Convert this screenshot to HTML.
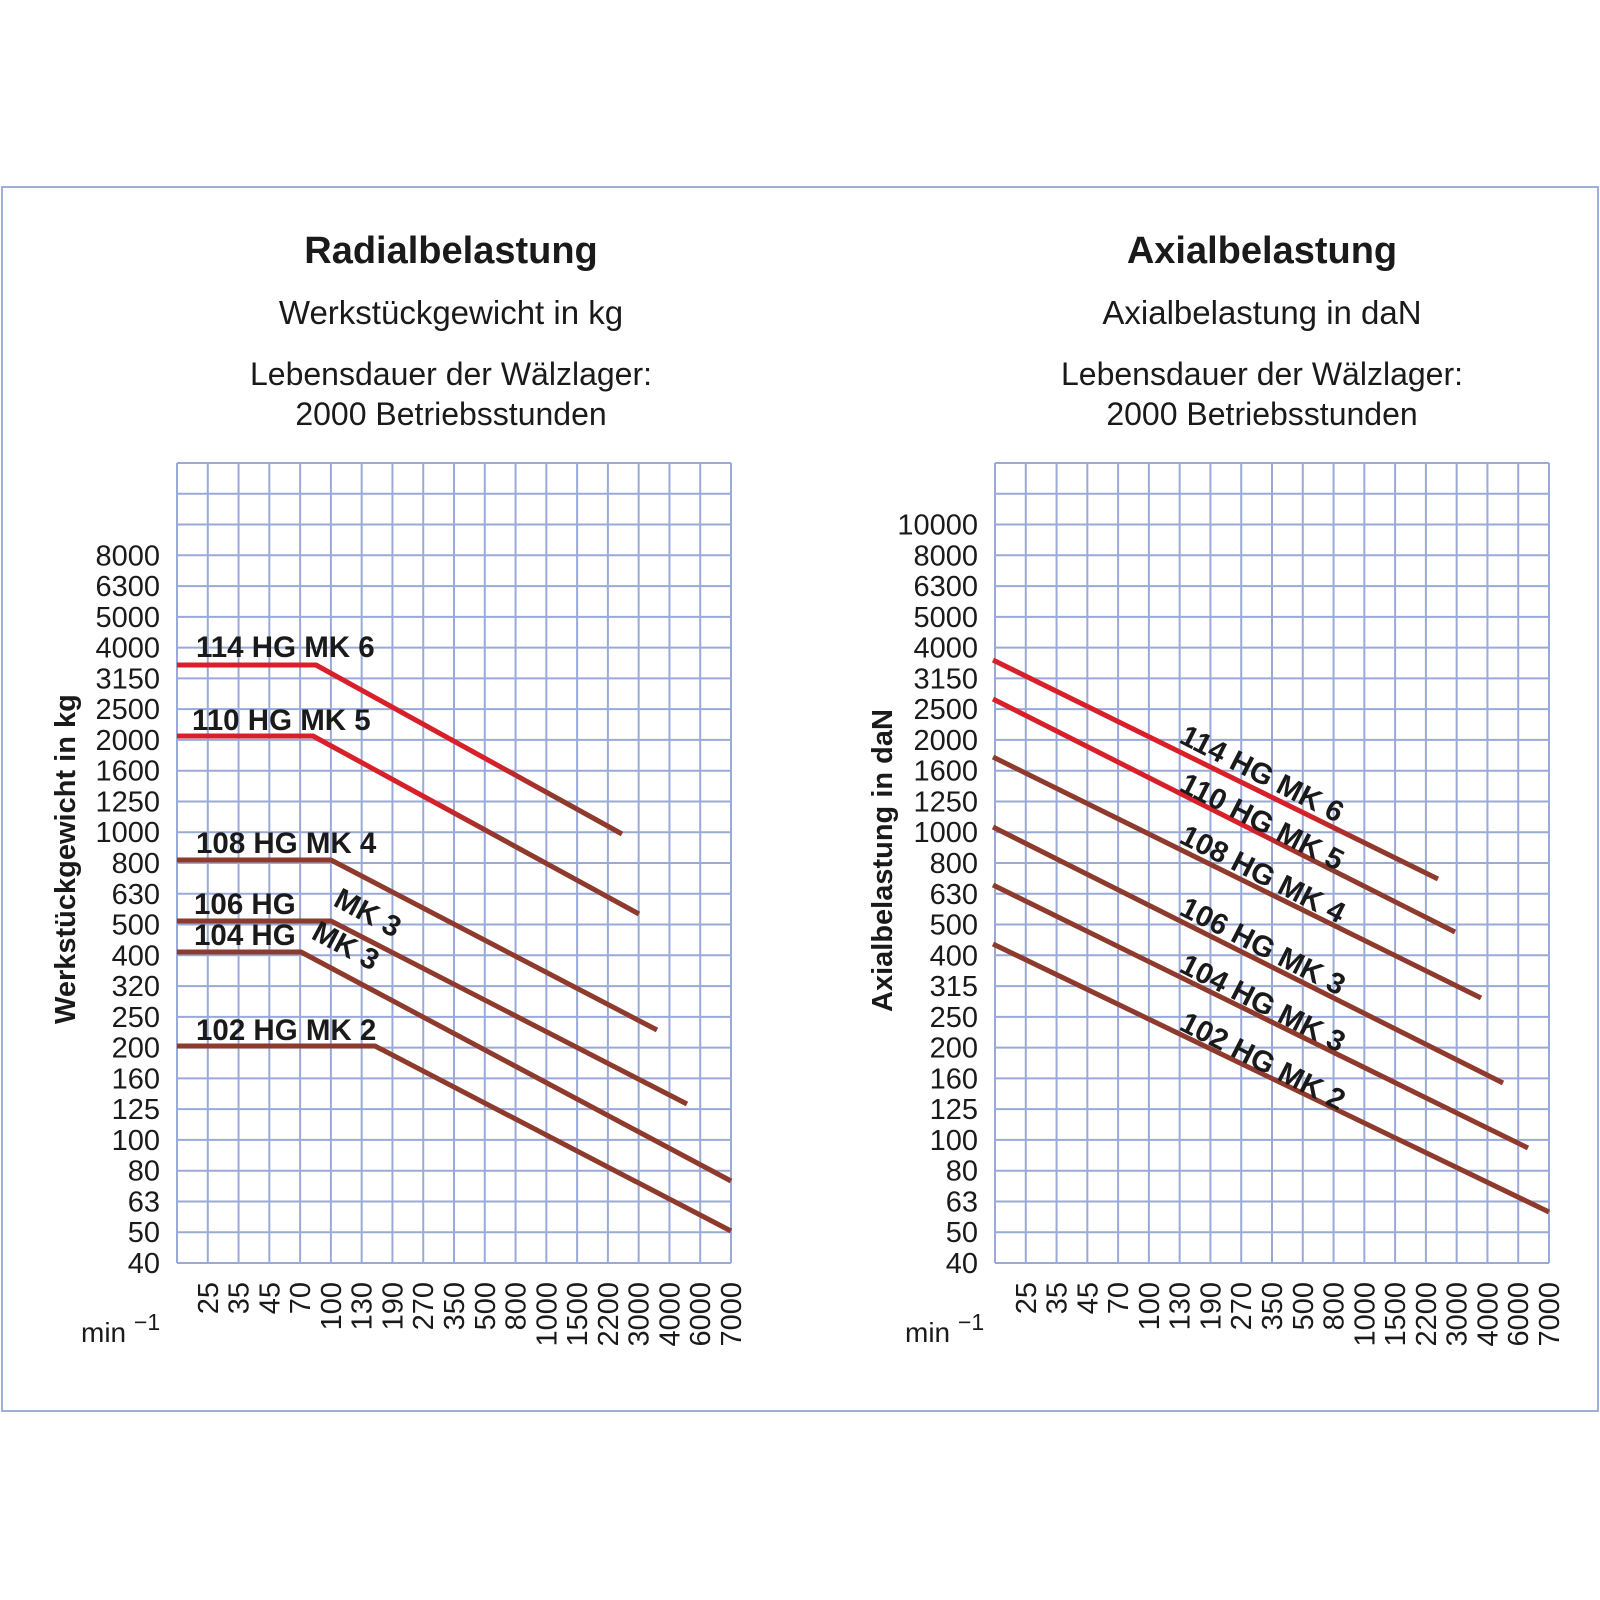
<!DOCTYPE html>
<html><head><meta charset="utf-8"><style>
html,body{margin:0;padding:0;background:#fff}
svg{display:block}
text{font-family:"Liberation Sans",Arial,sans-serif;fill:#1a1a1a}
</style></head><body>
<svg width="1600" height="1600" viewBox="0 0 1600 1600" xmlns="http://www.w3.org/2000/svg">
<defs>
<linearGradient id="g1" x1="0" x2="1" y1="0" y2="0"><stop offset="0.7" stop-color="#d8202a"/><stop offset="0.85" stop-color="#8e3a2c"/></linearGradient>
<linearGradient id="g2" x1="0" x2="1" y1="0" y2="0"><stop offset="0.55" stop-color="#d8202a"/><stop offset="0.7" stop-color="#8e3a2c"/></linearGradient>
</defs>
<rect x="2" y="187" width="1596" height="1224" fill="none" stroke="#9fb0d8" stroke-width="2"/>
<text x="451" y="263" font-size="38" font-weight="bold" text-anchor="middle">Radialbelastung</text>
<text x="451" y="324" font-size="33" text-anchor="middle">Werkstückgewicht in kg</text>
<text x="451" y="385" font-size="32" text-anchor="middle">Lebensdauer der Wälzlager:</text>
<text x="451" y="425" font-size="32" text-anchor="middle">2000 Betriebsstunden</text>
<text x="1262" y="263" font-size="38" font-weight="bold" text-anchor="middle">Axialbelastung</text>
<text x="1262" y="324" font-size="33" text-anchor="middle">Axialbelastung in daN</text>
<text x="1262" y="385" font-size="32" text-anchor="middle">Lebensdauer der Wälzlager:</text>
<text x="1262" y="425" font-size="32" text-anchor="middle">2000 Betriebsstunden</text>
<g id="grids" stroke="#9aaad8" stroke-width="2" fill="none"></g>
<g id="labels" font-size="29"></g>
<g fill="none" stroke-width="5" stroke-linejoin="round">
<polyline points="177,665 316,665 622,834" stroke="url(#g1)"/>
<polyline points="177,736 313,736 639,914" stroke="url(#g2)"/>
<polyline points="177,860 331,860 657,1030" stroke="#8e3a2c"/>
<polyline points="177,921 331,921 687,1104" stroke="#8e3a2c"/>
<polyline points="177,952 301,952 731,1181" stroke="#8e3a2c"/>
<polyline points="177,1046 375,1046 731,1231" stroke="#8e3a2c"/>
<line x1="993" y1="660" x2="1438" y2="879" stroke="url(#g1)"/>
<line x1="993" y1="699" x2="1455" y2="932" stroke="url(#g2)"/>
<line x1="993" y1="757" x2="1481" y2="998" stroke="#8e3a2c"/>
<line x1="993" y1="827" x2="1503" y2="1083" stroke="#8e3a2c"/>
<line x1="993" y1="885" x2="1528" y2="1148" stroke="#8e3a2c"/>
<line x1="993" y1="944" x2="1549" y2="1212" stroke="#8e3a2c"/>
</g>
<g font-size="29.5" font-weight="bold">
<text x="196" y="657">114 HG MK 6</text>
<text x="192" y="730">110 HG MK 5</text>
<text x="196" y="853">108 HG MK 4</text>
<text x="194" y="914">106 HG</text>
<text x="194" y="945">104 HG</text>
<text x="196" y="1040">102 HG MK 2</text>
<text transform="translate(332,905) rotate(28)">MK 3</text>
<text transform="translate(310,938) rotate(28)">MK 3</text>
<text transform="translate(1178,742) rotate(27)">114 HG MK 6</text>
<text transform="translate(1178,790) rotate(27)">110 HG MK 5</text>
<text transform="translate(1178,842) rotate(27)">108 HG MK 4</text>
<text transform="translate(1178,914) rotate(27)">106 HG MK 3</text>
<text transform="translate(1178,971) rotate(27)">104 HG MK 3</text>
<text transform="translate(1178,1029) rotate(27)">102 HG MK 2</text>
<text transform="translate(75,1024) rotate(-90)" font-size="29">Werkstückgewicht in kg</text>
<text transform="translate(892,1012) rotate(-90)" font-size="29">Axialbelastung in daN</text>
</g>
<text x="81" y="1342" font-size="28">min</text><text x="134" y="1330" font-size="23">−1</text>
<text x="905" y="1342" font-size="28">min</text><text x="958" y="1330" font-size="23">−1</text>
<script>
(function(){
var ns="http://www.w3.org/2000/svg";
var g=document.getElementById('grids'),L=document.getElementById('labels');
function el(p,t,a,txt){var e=document.createElementNS(ns,t);for(var k in a)e.setAttribute(k,a[k]);if(txt)e.textContent=txt;p.appendChild(e);return e;}
var xs=["25","35","45","70","100","130","190","270","350","500","800","1000","1500","2200","3000","4000","6000","7000"];
var yl=["40","50","63","80","100","125","160","200","250","320","400","500","630","800","1000","1250","1600","2000","2500","3150","4000","5000","6300","8000"];
var yr=yl.slice();yr[9]="315";yr.push("10000");
var y0=463,y1=1263,dy=(y1-y0)/26;
[[177,731,yl],[995,1549,yr]].forEach(function(c){
 var x0=c[0],x1=c[1],dx=(x1-x0)/18;
 for(var i=0;i<=18;i++){var x=x0+i*dx;el(g,'line',{x1:x,x2:x,y1:y0,y2:y1});}
 for(var j=0;j<=26;j++){var y=y0+j*dy;el(g,'line',{x1:x0,x2:x1,y1:y,y2:y});}
 for(var i=1;i<=18;i++){var x=x0+i*dx+10;el(L,'text',{transform:'translate('+x+',1282) rotate(-90)','text-anchor':'end'},xs[i-1]);}
 c[2].forEach(function(t,k){el(L,'text',{x:x0-17,y:y1-k*dy+10,'text-anchor':'end'},t);});
});
})();
</script>
</svg>
</body></html>
